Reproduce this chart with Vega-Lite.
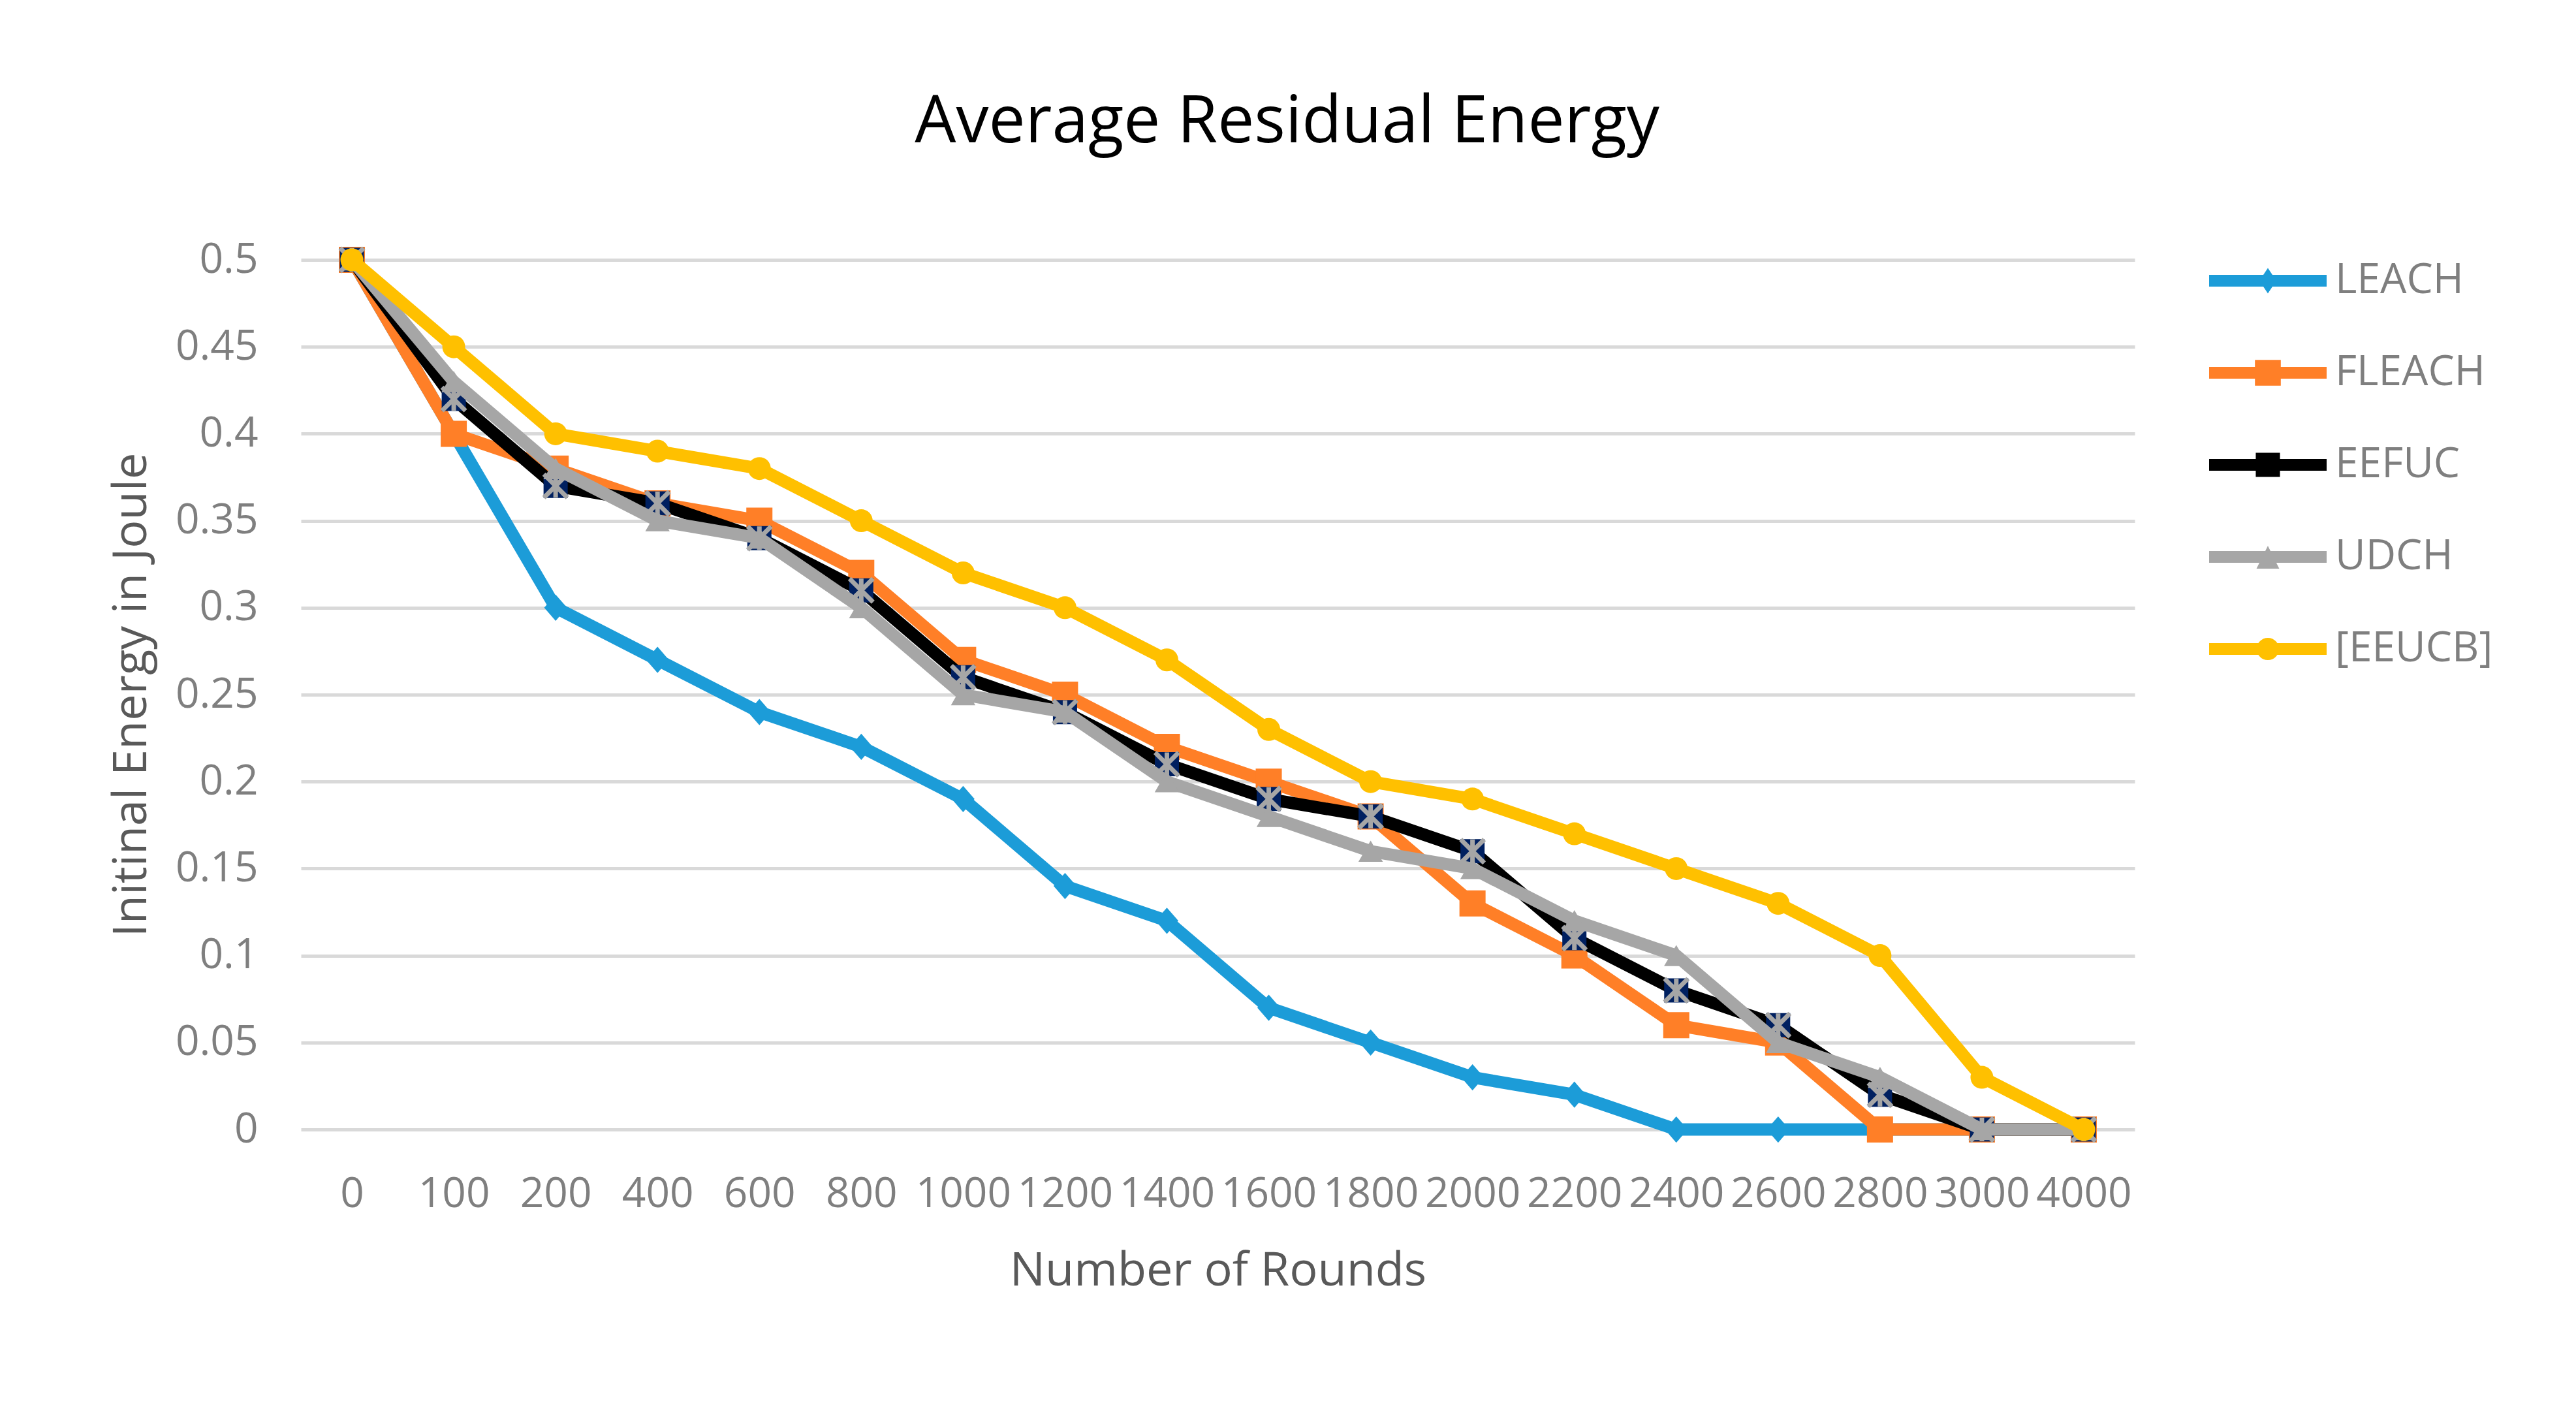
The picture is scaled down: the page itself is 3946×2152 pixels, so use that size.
{
  "$schema": "https://vega.github.io/schema/vega-lite/v6.json",
  "width": 2809,
  "height": 1332,
  "autosize": {"type": "none"},
  "padding": {"left": 461, "top": 398, "right": 676, "bottom": 422},
  "background": "#FFFFFF",
  "title": {"text": "Average Residual Energy", "font": "Open Sans", "fontSize": 100, "fontWeight": "normal", "color": "#000000", "anchor": "middle", "dx": 106, "offset": 127},
  "data": {"values": [
    {"r":0,"s":"LEACH","e":0.5},{"r":100,"s":"LEACH","e":0.4},{"r":200,"s":"LEACH","e":0.3},{"r":400,"s":"LEACH","e":0.27},{"r":600,"s":"LEACH","e":0.24},{"r":800,"s":"LEACH","e":0.22},{"r":1000,"s":"LEACH","e":0.19},{"r":1200,"s":"LEACH","e":0.14},{"r":1400,"s":"LEACH","e":0.12},{"r":1600,"s":"LEACH","e":0.07},{"r":1800,"s":"LEACH","e":0.05},{"r":2000,"s":"LEACH","e":0.03},{"r":2200,"s":"LEACH","e":0.02},{"r":2400,"s":"LEACH","e":0},{"r":2600,"s":"LEACH","e":0},{"r":2800,"s":"LEACH","e":0},{"r":3000,"s":"LEACH","e":0},{"r":4000,"s":"LEACH","e":0},
    {"r":0,"s":"FLEACH","e":0.5},{"r":100,"s":"FLEACH","e":0.4},{"r":200,"s":"FLEACH","e":0.38},{"r":400,"s":"FLEACH","e":0.36},{"r":600,"s":"FLEACH","e":0.35},{"r":800,"s":"FLEACH","e":0.32},{"r":1000,"s":"FLEACH","e":0.27},{"r":1200,"s":"FLEACH","e":0.25},{"r":1400,"s":"FLEACH","e":0.22},{"r":1600,"s":"FLEACH","e":0.2},{"r":1800,"s":"FLEACH","e":0.18},{"r":2000,"s":"FLEACH","e":0.13},{"r":2200,"s":"FLEACH","e":0.1},{"r":2400,"s":"FLEACH","e":0.06},{"r":2600,"s":"FLEACH","e":0.05},{"r":2800,"s":"FLEACH","e":0},{"r":3000,"s":"FLEACH","e":0},{"r":4000,"s":"FLEACH","e":0},
    {"r":0,"s":"EEFUC","e":0.5},{"r":100,"s":"EEFUC","e":0.42},{"r":200,"s":"EEFUC","e":0.37},{"r":400,"s":"EEFUC","e":0.36},{"r":600,"s":"EEFUC","e":0.34},{"r":800,"s":"EEFUC","e":0.31},{"r":1000,"s":"EEFUC","e":0.26},{"r":1200,"s":"EEFUC","e":0.24},{"r":1400,"s":"EEFUC","e":0.21},{"r":1600,"s":"EEFUC","e":0.19},{"r":1800,"s":"EEFUC","e":0.18},{"r":2000,"s":"EEFUC","e":0.16},{"r":2200,"s":"EEFUC","e":0.11},{"r":2400,"s":"EEFUC","e":0.08},{"r":2600,"s":"EEFUC","e":0.06},{"r":2800,"s":"EEFUC","e":0.02},{"r":3000,"s":"EEFUC","e":0},{"r":4000,"s":"EEFUC","e":0},
    {"r":0,"s":"UDCH","e":0.5},{"r":100,"s":"UDCH","e":0.43},{"r":200,"s":"UDCH","e":0.38},{"r":400,"s":"UDCH","e":0.35},{"r":600,"s":"UDCH","e":0.34},{"r":800,"s":"UDCH","e":0.3},{"r":1000,"s":"UDCH","e":0.25},{"r":1200,"s":"UDCH","e":0.24},{"r":1400,"s":"UDCH","e":0.2},{"r":1600,"s":"UDCH","e":0.18},{"r":1800,"s":"UDCH","e":0.16},{"r":2000,"s":"UDCH","e":0.15},{"r":2200,"s":"UDCH","e":0.12},{"r":2400,"s":"UDCH","e":0.1},{"r":2600,"s":"UDCH","e":0.05},{"r":2800,"s":"UDCH","e":0.03},{"r":3000,"s":"UDCH","e":0},{"r":4000,"s":"UDCH","e":0},
    {"r":0,"s":"[EEUCB]","e":0.5},{"r":100,"s":"[EEUCB]","e":0.45},{"r":200,"s":"[EEUCB]","e":0.4},{"r":400,"s":"[EEUCB]","e":0.39},{"r":600,"s":"[EEUCB]","e":0.38},{"r":800,"s":"[EEUCB]","e":0.35},{"r":1000,"s":"[EEUCB]","e":0.32},{"r":1200,"s":"[EEUCB]","e":0.3},{"r":1400,"s":"[EEUCB]","e":0.27},{"r":1600,"s":"[EEUCB]","e":0.23},{"r":1800,"s":"[EEUCB]","e":0.2},{"r":2000,"s":"[EEUCB]","e":0.19},{"r":2200,"s":"[EEUCB]","e":0.17},{"r":2400,"s":"[EEUCB]","e":0.15},{"r":2600,"s":"[EEUCB]","e":0.13},{"r":2800,"s":"[EEUCB]","e":0.1},{"r":3000,"s":"[EEUCB]","e":0.03},{"r":4000,"s":"[EEUCB]","e":0}
  ]},
  "encoding": {
    "x": {"field": "r", "type": "ordinal", "scale": {"type": "point", "padding": 0.5},
      "axis": {"title": "Number of Rounds", "grid": false, "labelAngle": 0, "labelPadding": 67, "titlePadding": 50, "labelOverlap": false}},
    "y": {"field": "e", "type": "quantitative", "scale": {"domain": [0, 0.5], "nice": false},
      "axis": {"title": "Initinal Energy in Joule", "values": [0, 0.05, 0.1, 0.15, 0.2, 0.25, 0.3, 0.35, 0.4, 0.45, 0.5], "format": "~g", "grid": true, "labelPadding": 66, "titlePadding": 30}}
  },
  "layer": [
    {"transform": [{"filter": "datum.s === 'LEACH'"}],
     "mark": {"type": "line", "strokeWidth": 19, "strokeJoin": "round", "strokeCap": "round"},
     "encoding": {"color": {"field": "s", "type": "nominal",
       "scale": {"domain": ["LEACH", "FLEACH", "EEFUC", "UDCH", "[EEUCB]"], "range": ["#1C9CD8", "#FF7F27", "#000000", "#A6A6A6", "#FFC000"]},
       "legend": {"title": null, "orient": "right", "offset": 172, "padding": 0, "labelFontSize": 64, "labelColor": "#7F7F7F", "labelFont": "Open Sans", "labelLimit": 0, "labelOffset": 71, "rowPadding": 77, "symbolSize": 1296,
         "encoding": {"symbols": {
           "shape": {"value": {"expr": "datum.value==='LEACH'?'M-5,-0.5H5V0.5H-5ZM0,-1.08L0.72,0L0,1.08L-0.72,0Z':(datum.value==='UDCH'?'M-5,-0.5H5V0.5H-5ZM0,-0.95L0.97,1H-0.97Z':(datum.value==='[EEUCB]'?'M-5,-0.5H5V0.5H-5ZM-0.95,0A0.95,0.95 0 1,1 0.95,0A0.95,0.95 0 1,1 -0.95,0Z':(datum.value==='FLEACH'?'M-5,-0.5H5V0.5H-5ZM-1.1,-1.1H1.1V1.1H-1.1Z':'M-5,-0.5H5V0.5H-5ZM-1.03,-1.03H1.03V1.03H-1.03Z')))"}},
           "fill": {"value": {"expr": "scale('color', datum.value)"}},
           "strokeWidth": {"value": 0},
           "opacity": {"value": 1}
         }}}}}},
    {"transform": [{"filter": "datum.s === 'LEACH'"}],
     "mark": {"type": "point", "filled": true, "shape": "M0,-1.15L1,0L0,1.15L-1,0Z", "size": 1225, "fill": "#1C9CD8", "opacity": 1, "strokeWidth": 0}},
    {"transform": [{"filter": "datum.s === 'FLEACH'"}],
     "mark": {"type": "line", "strokeWidth": 19, "strokeJoin": "round", "strokeCap": "round"},
     "encoding": {"color": {"field": "s", "type": "nominal", "scale": {"domain": ["LEACH", "FLEACH", "EEFUC", "UDCH", "[EEUCB]"], "range": ["#1C9CD8", "#FF7F27", "#000000", "#A6A6A6", "#FFC000"]}}}},
    {"transform": [{"filter": "datum.s === 'FLEACH'"}],
     "mark": {"type": "point", "filled": true, "shape": "square", "size": 1600, "fill": "#FF7F27", "opacity": 1, "strokeWidth": 0}},
    {"transform": [{"filter": "datum.s === 'EEFUC'"}],
     "mark": {"type": "line", "strokeWidth": 19, "strokeJoin": "round", "strokeCap": "round"},
     "encoding": {"color": {"field": "s", "type": "nominal", "scale": {"domain": ["LEACH", "FLEACH", "EEFUC", "UDCH", "[EEUCB]"], "range": ["#1C9CD8", "#FF7F27", "#000000", "#A6A6A6", "#FFC000"]}}}},
    {"transform": [{"filter": "datum.s === 'EEFUC'"}],
     "mark": {"type": "point", "filled": true, "shape": "square", "size": 1369, "fill": "#002060", "opacity": 1, "strokeWidth": 0}},
    {"transform": [{"filter": "datum.s === 'EEFUC'"}],
     "mark": {"type": "point", "filled": false, "shape": "M-1,-1L1,1M-1,1L1,-1M0,-1L0,1", "size": 1296, "stroke": "#A6A6A6", "strokeWidth": 7, "opacity": 1}},
    {"transform": [{"filter": "datum.s === 'UDCH'"}],
     "mark": {"type": "line", "strokeWidth": 19, "strokeJoin": "round", "strokeCap": "round"},
     "encoding": {"color": {"field": "s", "type": "nominal", "scale": {"domain": ["LEACH", "FLEACH", "EEFUC", "UDCH", "[EEUCB]"], "range": ["#1C9CD8", "#FF7F27", "#000000", "#A6A6A6", "#FFC000"]}}}},
    {"transform": [{"filter": "datum.s === 'UDCH'"}],
     "mark": {"type": "point", "filled": true, "shape": "triangle-up", "size": 1400, "fill": "#A6A6A6", "opacity": 1, "strokeWidth": 0}},
    {"transform": [{"filter": "datum.s === '[EEUCB]'"}],
     "mark": {"type": "line", "strokeWidth": 19, "strokeJoin": "round", "strokeCap": "round"},
     "encoding": {"color": {"field": "s", "type": "nominal", "scale": {"domain": ["LEACH", "FLEACH", "EEFUC", "UDCH", "[EEUCB]"], "range": ["#1C9CD8", "#FF7F27", "#000000", "#A6A6A6", "#FFC000"]}}}},
    {"transform": [{"filter": "datum.s === '[EEUCB]'"}],
     "mark": {"type": "point", "filled": true, "shape": "circle", "size": 1225, "fill": "#FFC000", "opacity": 1, "strokeWidth": 0}}
  ],
  "config": {
    "font": "Open Sans",
    "view": {"stroke": null},
    "axis": {"labelFont": "Open Sans", "titleFont": "Open Sans", "labelFontSize": 64, "titleFontSize": 72, "labelColor": "#7F7F7F", "titleColor": "#595959", "titleFontWeight": "normal", "ticks": false, "domain": false, "gridColor": "#D9D9D9", "gridWidth": 5}
  }
}
